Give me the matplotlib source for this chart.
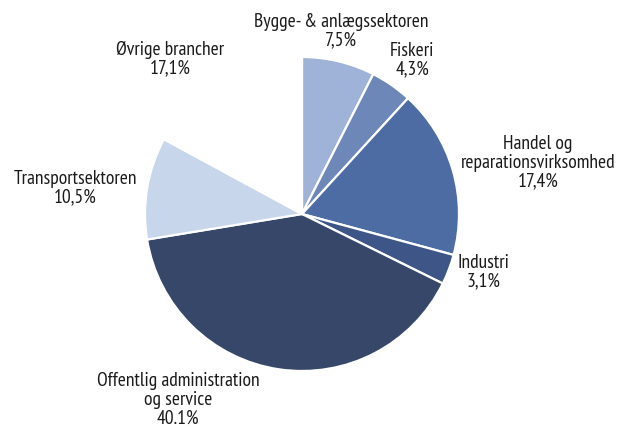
import matplotlib.pyplot as plt

# data
sectors = ['Bygge- & anlægssektoren', 'Fiskeri', 'Handel og\nreparationsvirksomhed',
           'Industri', 'Offentlig administration\nog service', 'Transportsektoren',
           'Øvrige brancher']
shares = [7.5, 4.3, 17.4, 3.1, 40.1, 10.5, 17.1]
share_txt = ['7,5%', '4,3%', '17,4%', '3,1%', '40.1%', '10,5%', '17,1%']
colors = ['#9fb2d7', '#6c87b8', '#4d6ca3', '#3e5687', '#364769', '#c7d6eb', '#ffffff']

# label centres in pixel coords (x, y from top)
label_pos = [(341, 31), (412, 60), (538, 163), (483, 272), (178, 400), (75, 188), (170, 59)]

fig = plt.figure(figsize=(6.21, 4.28), dpi=100)
ax = fig.add_axes([0, 0, 1, 1])

ax.pie(shares, colors=colors, startangle=90, counterclock=False,
       center=(302, 428 - 214), radius=157, frame=True,
       wedgeprops=dict(edgecolor='white', linewidth=1.6))
ax.set_xlim(0, 621)
ax.set_ylim(0, 428)
ax.axis('off')

for name, pct, (x, y) in zip(sectors, share_txt, label_pos):
    ax.text(x, 428 - y, name + '\n' + pct, ha='center', va='center',
            fontsize=14, family=['PT Sans Narrow', 'DejaVu Sans'],
            color='#1a1a1a', linespacing=1.05)

fig.savefig('out.png', dpi=100)
